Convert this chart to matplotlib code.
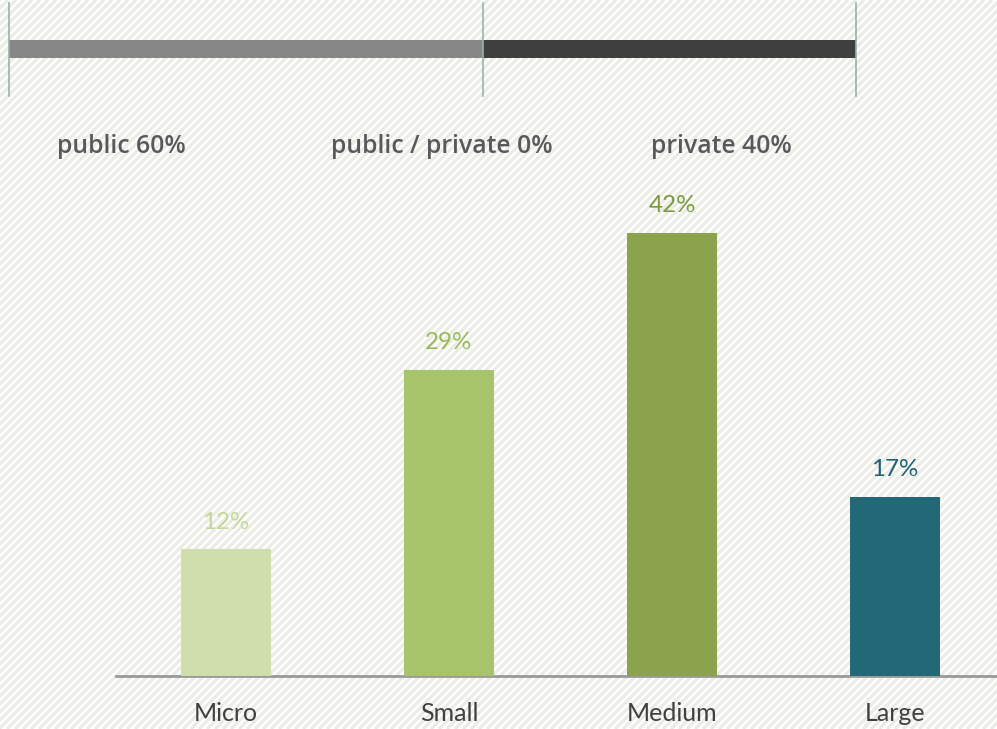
import numpy as np
import matplotlib.pyplot as plt

# Data
categories = ['Micro', 'Small', 'Medium', 'Large']
shares = [12, 29, 42, 17]
bar_colors = ['#cfdeac', '#a8c46a', '#8aa34c', '#236876']
label_colors = ['#c3d89c', '#98bb58', '#7b9a3e', '#1f6272']

sector_labels = ['public 60%', 'public / private 0%', 'private 40%']
sector_segments = [56, 44]          # lengths of the top bar segments
sector_colors = ['#878787', '#3f3f3f']

W, H = 997, 729
fig = plt.figure(figsize=(W / 100, H / 100), dpi=100)
fig.patch.set_facecolor('white')

# Background stripes + top bar, in pixel coordinates
bg = fig.add_axes([0, 0, 1, 1])
bg.set_xlim(0, W)
bg.set_ylim(H, 0)
bg.axis('off')
for c in range(0, W + H + 8, 8):
    bg.plot([c, c - H], [0, H], color='#eaece4', lw=2.2, solid_capstyle='butt', zorder=0)

left = 9
scale = (856 - 9) / 100.0
bg.barh(49, sector_segments[0] * scale, left=left, height=18,
        color=sector_colors[0], zorder=2)
bg.barh(49, sector_segments[1] * scale, left=left + sector_segments[0] * scale,
        height=18, color=sector_colors[1], zorder=2)
for x in [left, left + sector_segments[0] * scale, left + sum(sector_segments) * scale]:
    bg.plot([x, x], [3, 96], color='#93b5ae', lw=1.2, zorder=3)

for txt, x in zip(sector_labels, [57, 331, 651]):
    bg.text(x, 146, txt, ha='left', va='center', fontsize=17.8,
            fontweight='semibold', family='Open Sans', color='#58595b', zorder=4)

# Bar chart
ax = fig.add_axes([116 / W, 1 - 676 / H, (W - 116) / W, (676 - 201.25) / H])
ax.patch.set_alpha(0)
x = np.arange(len(categories))
ax.bar(x, shares, width=0.4, color=bar_colors, zorder=3)
ax.set_xlim(-0.493, 3.457)
ax.set_ylim(0, 45)
for s in ['top', 'right', 'left']:
    ax.spines[s].set_visible(False)
ax.spines['bottom'].set_color('#9a9a9a')
ax.spines['bottom'].set_linewidth(2)
ax.set_yticks([])
ax.set_xticks(x)
ax.set_xticklabels(categories, fontsize=18, family='Lato', color='#404040')
ax.tick_params(axis='x', length=0, pad=19)
for xi, v, col in zip(x, shares, label_colors):
    ax.annotate(f'{v}%', (xi, v), xytext=(0, 19.5), textcoords='offset points',
                ha='center', va='center', fontsize=17.4, family='Lato', color=col)

fig.savefig('out.png', dpi=100)
